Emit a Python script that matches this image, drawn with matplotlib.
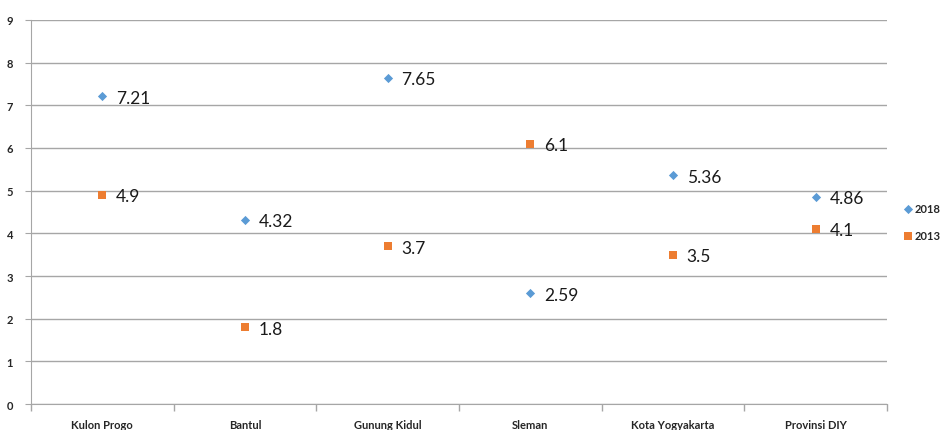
import numpy as np
import matplotlib.pyplot as plt

plt.rcParams['font.family'] = ['Lato', 'DejaVu Sans']

regions = ['Kulon Progo', 'Bantul', 'Gunung Kidul', 'Sleman', 'Kota Yogyakarta', 'Provinsi DIY']
val_2018 = [7.21, 4.32, 7.65, 2.59, 5.36, 4.86]
val_2013 = [4.9, 1.8, 3.7, 6.1, 3.5, 4.1]
lbl_2018 = ['7.21', '4.32', '7.65', '2.59', '5.36', '4.86']
lbl_2013 = ['4.9', '1.8', '3.7', '6.1', '3.5', '4.1']

blue = '#5B9BD5'
orange = '#ED7D31'
grid_col = '#A6A6A6'

fig = plt.figure(figsize=(9.52, 4.31), dpi=100)
ax = fig.add_axes([0.0326, 0.0603, 0.899, 0.891])

x = np.arange(len(regions))
ax.scatter(x, val_2018, marker='D', s=22, color=blue, zorder=3, label='2018', linewidths=0)
ax.scatter(x, val_2013, marker='s', s=38, color=orange, zorder=3, label='2013', linewidths=0)

# value labels to the right of each point
for xi, v, t in zip(x, val_2018, lbl_2018):
    ax.annotate(t, (xi, v), xytext=(10, -1), textcoords='offset points',
                va='center', ha='left', fontsize=12.5, color='#1a1a1a')
for xi, v, t in zip(x, val_2013, lbl_2013):
    ax.annotate(t, (xi, v), xytext=(10, -1), textcoords='offset points',
                va='center', ha='left', fontsize=12.5, color='#1a1a1a')

ax.set_xlim(-0.5, len(regions) - 0.5)
ax.set_ylim(0, 9)
ax.set_yticks(range(0, 10))
ax.yaxis.grid(True, color=grid_col, linewidth=1)
ax.set_axisbelow(True)

ax.set_xticks(x)
ax.set_xticklabels(regions, fontsize=8, fontweight='bold', color='#262626')
ax.set_xticks(np.arange(-0.5, len(regions)), minor=True)
ax.tick_params(axis='x', which='major', length=0, pad=11)
ax.tick_params(axis='x', which='minor', length=5, color=grid_col, width=1)
ax.tick_params(axis='y', length=4, color=grid_col, labelsize=8, pad=9,
               labelcolor='#262626')
for lab in ax.get_yticklabels():
    lab.set_fontweight('bold')

for side in ['top', 'right']:
    ax.spines[side].set_visible(False)
ax.spines['left'].set_color(grid_col)
ax.spines['bottom'].set_color(grid_col)

leg = ax.legend(loc='center left', bbox_to_anchor=(1.012, 0.474), frameon=False,
                handletextpad=0.0, handlelength=1.2, labelspacing=1.45,
                prop={'size': 8, 'weight': 'bold'}, borderaxespad=0.0)
for t in leg.get_texts():
    t.set_color('#262626')

fig.savefig('out.png', dpi=100)
